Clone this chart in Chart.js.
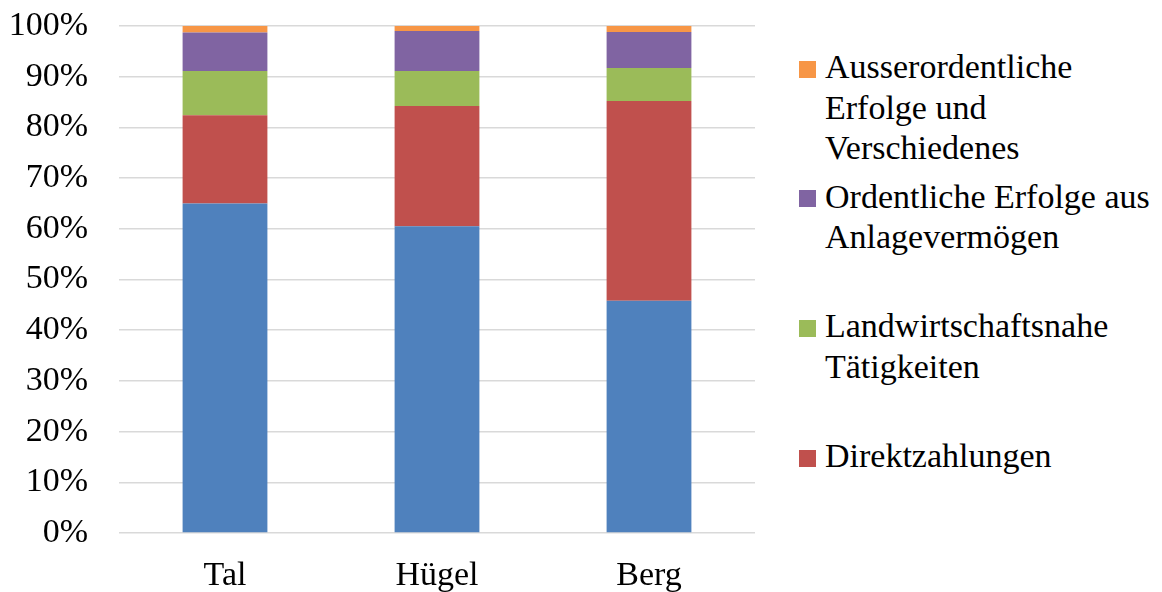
<!DOCTYPE html>
<html>
<head>
<meta charset="utf-8">
<script src="https://cdn.jsdelivr.net/npm/chart.js@4"></script>
<style>
  body { margin: 0; background: #fff; width: 1162px; height: 592px; overflow: hidden; position: relative; }
  #wrap { position: absolute; left: 0; top: 0; width: 760px; height: 592px; }
  #legend { position: absolute; left: 799px; top: 47px; font-family: "Liberation Serif", "Times New Roman", serif; font-size: 34px; line-height: 40.5px; color: #000; }
  .item { position: relative; height: 129.7px; padding-left: 26px; white-space: pre-line; }
  .box { position: absolute; left: 0; top: 13.5px; width: 17px; height: 17px; }
</style>
</head>
<body>
<div id="wrap"><canvas id="chart"></canvas></div>
<div id="legend"></div>
<script>
// categories + series (percent shares, bottom to top)
const categories = ['Tal', 'Hügel', 'Berg'];
const seriesNames = [
  'Landwirtschaft',
  'Direktzahlungen',
  'Landwirtschaftsnahe\nTätigkeiten',
  'Ordentliche Erfolge aus\nAnlagevermögen',
  'Ausserordentliche\nErfolge und\nVerschiedenes'
];
const landwirtschaft = [65.0, 60.5, 45.8];
const direktzahlungen = [17.4, 23.7, 39.4];
const nahe = [8.7, 6.9, 6.5];
const anlage = [7.6, 7.9, 7.1];
const ausserordentlich = [1.3, 1.0, 1.2];
const colors = ['#4F81BD', '#C0504D', '#9BBB59', '#8064A2', '#F79646'];
const inLegend = [false, true, true, true, true];

const font = { family: '"Liberation Serif", "Times New Roman", serif', size: 34 };
const values = [landwirtschaft, direktzahlungen, nahe, anlage, ausserordentlich];

const chart = new Chart(document.getElementById('chart'), {
  type: 'bar',
  data: {
    labels: categories,
    datasets: values.map((v, i) => ({
      label: seriesNames[i],
      data: v,
      backgroundColor: colors[i],
      borderWidth: 0,
      barPercentage: 0.4,
      categoryPercentage: 1
    }))
  },
  options: {
    responsive: true,
    maintainAspectRatio: false,
    animation: false,
    layout: { padding: { top: 26, right: 5, left: 0, bottom: 0 } },
    plugins: { legend: { display: false }, tooltip: { enabled: false } },
    scales: {
      x: {
        stacked: true,
        grid: { display: false },
        border: { display: false },
        ticks: { color: '#000', font: font, padding: 15 },
        afterFit: s => { s.height = 59; }
      },
      y: {
        stacked: true,
        min: 0,
        max: 100,
        grid: { color: '#d9d9d9', lineWidth: 1.5, drawTicks: false },
        border: { display: false },
        ticks: {
          stepSize: 10,
          color: '#000',
          font: font,
          padding: 31,
          callback: v => v + '%'
        },
        afterFit: s => { s.width = 119; s.paddingTop = 0; s.paddingBottom = 0; }
      }
    }
  }
});

// legend, top series first, without the base series
const legend = document.getElementById('legend');
for (let i = seriesNames.length - 1; i >= 0; i--) {
  if (!inLegend[i]) continue;
  const item = document.createElement('div');
  item.className = 'item';
  const box = document.createElement('span');
  box.className = 'box';
  box.style.background = colors[i];
  item.appendChild(box);
  item.appendChild(document.createTextNode(seriesNames[i]));
  legend.appendChild(item);
}
</script>
</body>
</html>
